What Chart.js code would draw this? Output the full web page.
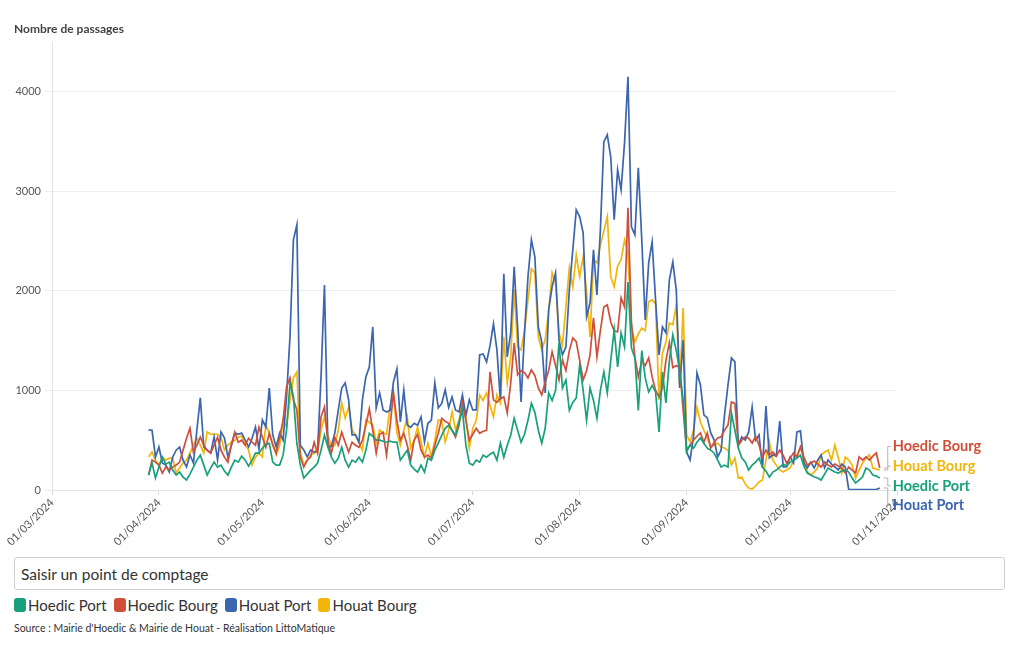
<!DOCTYPE html>
<html lang="fr">
<head>
<meta charset="utf-8">
<title>Nombre de passages</title>
<script src="https://cdn.jsdelivr.net/npm/chart.js@4.4.1/dist/chart.umd.min.js"></script>
<style>
  body { margin: 0; background: #fff; font-family: Lato, "Noto Sans", sans-serif; color: #333; }
  #wrap { position: relative; width: 1020px; height: 650px; }
  #chart { position: absolute; left: 0; top: 0; }
  #title { position: absolute; left: 14px; top: 21px; font-size: 12px; font-weight: bold; color: #444; }
  #search { position: absolute; left: 14px; top: 557px; width: 991px; height: 33px; box-sizing: border-box;
            border: 1px solid #cfcfcf; border-radius: 3px; padding: 0 6px; font: 15.5px Lato, sans-serif; color: #333; }
  #search::placeholder { color: #333; }
  #legend { position: absolute; left: 14px; top: 596px; display: flex; font-size: 15px; color: #333; }
  #legend .item { display: flex; align-items: center; margin-right: 7px; }
  #legend .box { width: 12px; height: 14px; border-radius: 3px; margin-right: 2px; }
  #source { position: absolute; left: 14px; top: 622px; font-size: 10.5px; color: #333; }
</style>
</head>
<body>
<div id="wrap">
  <canvas id="chart" width="1020" height="550"></canvas>
  <div id="title">Nombre de passages</div>
  <input id="search" type="text" placeholder="Saisir un point de comptage">
  <div id="legend"></div>
  <div id="source">Source : Mairie d'Hoedic &amp; Mairie de Houat - Réalisation LittoMatique</div>
</div>
<script>
// First day of the counts, and first day of the x axis
const firstDate = "2024-03-29";
const axisStart = "2024-03-01";

// Tick labels on the x axis (first day of each month)
const monthLabels = ["01/03/2024", "01/04/2024", "01/05/2024", "01/06/2024", "01/07/2024",
    "01/08/2024", "01/09/2024", "01/10/2024", "01/11/2024"];

// Ticks on the y axis
const yTicks = [0, 1000, 2000, 3000, 4000];

// Daily counts, 29/03 to 27/10
const hoedicPort = [150, 270, 120,
    230, 330, 260, 280, 200, 150, 180, 130, 100, 160, 230, 300, 350, 250, 150, 220, 280, 230, 250, 190, 150, 230, 300, 280, 340, 300, 240, 300, 370, 370,
    420, 460, 470, 280, 250, 250, 350, 600, 1075, 935, 470, 250, 120, 160, 200, 230, 270, 400, 550, 430, 330, 270, 320, 430, 300, 230, 300, 280, 330, 280, 400,
    570, 540, 500, 500, 490, 480, 490, 480, 480, 300, 350, 400, 250, 210, 180, 250, 180, 320, 300, 400, 470, 550, 620, 650, 600, 550, 680, 800, 450, 270,
    250, 300, 280, 350, 330, 360, 380, 300, 470, 330, 450, 550, 720, 600, 480, 560, 700, 870, 780, 600, 470, 620, 975, 900, 1000, 1480, 1025, 1105, 800, 880, 925,
    1256, 1000, 700, 1025, 900, 720, 1000, 1186, 975, 1300, 1608, 1236, 1578, 1437, 2090, 1427, 1327, 800, 1400, 1126, 985, 1050, 985, 583, 1186, 874, 1300, 1558, 1400, 1200, 905,
    382, 450, 420, 480, 523, 470, 420, 400, 370, 300, 231, 250, 231, 774, 600, 422, 320, 281, 200, 250, 280, 320, 230, 190, 130, 180, 200, 230, 260, 240,
    280, 300, 320, 350, 240, 170, 150, 130, 120, 100, 160, 220, 200, 180, 170, 190, 200, 180, 120, 70, 100, 130, 220, 200, 150, 140, 120];

const hoedicBourg = [150, 300, 280,
    250, 170, 230, 200, 230, 250, 280, 400, 520, 620, 380, 450, 530, 450, 400, 370, 450, 530, 400, 330, 280, 450, 580, 480, 500, 450, 520, 480, 450, 630,
    530, 430, 570, 450, 370, 530, 700, 1035, 1125, 905, 805, 330, 230, 300, 330, 480, 370, 735, 835, 480, 370, 530, 450, 580, 480, 382, 480, 450, 430, 500, 650,
    815, 600, 370, 560, 580, 350, 630, 975, 700, 500, 570, 450, 300, 500, 560, 400, 330, 350, 320, 450, 570, 720, 690, 670, 600, 530, 650, 870, 700, 500,
    560, 620, 570, 590, 600, 1186, 905, 880, 920, 935, 774, 1075, 1477, 1156, 1200, 1180, 1126, 1206, 1150, 1025, 955, 1085, 1200, 1387, 1250, 1105, 1307, 1200, 1400, 1528, 1490,
    1300, 1105, 1200, 1357, 1729, 1337, 1600, 1839, 1859, 1688, 1600, 1588, 1930, 1839, 2834, 1678, 1337, 1136, 1300, 1250, 1327, 1136, 1000, 935, 1025, 1300, 1477, 1230, 1250, 1230, 800,
    400, 450, 502, 540, 573, 480, 573, 422, 480, 523, 533, 600, 653, 884, 870, 450, 500, 533, 520, 472, 540, 450, 332, 400, 350, 382, 340, 400, 350, 271,
    320, 372, 330, 432, 330, 251, 270, 290, 260, 231, 280, 250, 231, 260, 240, 220, 171, 231, 200, 171, 332, 300, 332, 300, 340, 372, 221];

const houatPort = [603, 600, 332,
    432, 271, 250, 181, 332, 400, 432, 300, 231, 352, 271, 600, 925, 432, 400, 372, 533, 302, 583, 523, 332, 450, 573, 560, 573, 500, 432, 520, 633, 412,
    703, 633, 1025, 553, 432, 573, 500, 935, 1538, 2512, 2663, 450, 402, 332, 402, 380, 400, 1136, 2060, 432, 440, 573, 800, 1025, 1075, 905, 553, 553, 480, 905, 1136,
    1236, 1638, 824, 975, 804, 784, 800, 1085, 1216, 683, 1005, 653, 630, 670, 650, 734, 482, 670, 703, 1075, 824, 870, 1005, 830, 935, 804, 784, 955, 750, 905,
    804, 804, 1357, 1367, 1287, 1450, 1668, 1407, 905, 2171, 1337, 1578, 2241, 1638, 884, 1578, 2141, 2512, 2342, 1638, 1487, 975, 1809, 2040, 2181, 1508, 1357, 1437, 2010, 2412, 2814,
    2744, 2583, 1739, 1879, 2412, 1960, 2613, 3497, 3568, 3347, 2714, 3216, 3015, 3487, 4151, 2643, 2563, 3236, 2513, 1709, 2281, 2492, 1910, 1357, 1638, 1578, 2110, 2291, 2010, 1025, 1507,
    382, 302, 533, 1176, 1055, 754, 724, 573, 502, 332, 400, 754, 1055, 1327, 1287, 450, 533, 502, 583, 834, 502, 553, 221, 844, 322, 352, 340, 693, 231, 231,
    332, 271, 583, 593, 271, 221, 280, 221, 300, 352, 221, 302, 260, 231, 201, 260, 231, 5, 5, 5, 5, 5, 5, 5, 5, 5, 20];

const houatBourg = [332, 382, 300,
    251, 330, 300, 320, 320, 171, 220, 271, 300, 372, 450, 523, 450, 372, 583, 560, 560, 560, 533, 402, 450, 480, 500, 530, 543, 450, 402, 251, 330, 372,
    332, 653, 573, 472, 352, 450, 703, 633, 900, 1126, 1186, 382, 251, 300, 352, 370, 382, 603, 734, 550, 432, 450, 600, 874, 724, 834, 603, 550, 472, 400, 703,
    680, 650, 472, 603, 573, 560, 834, 975, 573, 452, 600, 734, 422, 500, 633, 482, 332, 470, 332, 500, 703, 690, 482, 600, 784, 603, 700, 874, 730, 422,
    623, 700, 955, 900, 975, 850, 734, 955, 874, 1538, 1075, 1337, 2010, 1437, 1407, 1600, 1910, 2221, 2181, 1538, 1407, 1508, 1800, 2181, 2080, 1578, 1457, 1839, 2231, 2040, 2362,
    2141, 2342, 1980, 1538, 2312, 2281, 2462, 2600, 2744, 2141, 2040, 2250, 2312, 2512, 2382, 1638, 1487, 1570, 1628, 1600, 1890, 1910, 1870, 905, 1377, 1487, 1678, 1660, 1859, 1035, 1829,
    553, 482, 600, 834, 683, 600, 523, 432, 450, 472, 432, 422, 400, 251, 322, 120, 130, 60, 20, 10, 40, 80, 100, 302, 482, 302, 250, 201, 180, 200,
    221, 300, 352, 432, 300, 181, 151, 180, 221, 352, 380, 402, 302, 452, 322, 171, 332, 300, 251, 120, 200, 271, 320, 352, 221, 210, 201];

// Series names and colours, in legend order
const seriesNames = ["Hoedic Port", "Hoedic Bourg", "Houat Port", "Houat Bourg"];
const seriesValues = [hoedicPort, hoedicBourg, houatPort, houatBourg];
const seriesColors = ["#17a07b", "#cf4f3b", "#3b65ae", "#f2b50a"];

const DAY = 86400000;
const dayOf = (iso) => Math.round((Date.parse(iso) - Date.parse(axisStart)) / DAY);
const frToIso = (s) => s.split("/").reverse().join("-");
const firstDay = dayOf(firstDate);
const tickDays = monthLabels.map(l => dayOf(frToIso(l)));

const datasets = seriesNames.map((name, k) => ({
    label: name,
    data: seriesValues[k].map((v, i) => ({ x: firstDay + i, y: v })),
    borderColor: seriesColors[k],
    backgroundColor: seriesColors[k],
    borderWidth: 1.7,
    pointRadius: 0,
    tension: 0,
    fill: false,
}));

// Labels at the end of each line, spread so they do not overlap
const endLabels = {
    id: "endLabels",
    afterDatasetsDraw(chart) {
        const ctx = chart.ctx;
        const ends = chart.data.datasets.map((ds, k) => {
            const pts = chart.getDatasetMeta(k).data;
            const p = pts[pts.length - 1];
            return { name: ds.label, color: ds.borderColor, x: p.x, y: p.y };
        }).sort((a, b) => a.y - b.y);
        const gap = 19.7;
        const mid = ends.reduce((s, e) => s + e.y, 0) / ends.length;
        ctx.save();
        ctx.font = "bold 14.5px Lato, sans-serif";
        ctx.textBaseline = "middle";
        ends.forEach((e, k) => {
            const ly = mid + (k - (ends.length - 1) / 2) * gap;
            const lx = e.x + 13;
            ctx.strokeStyle = "#b5b5b5";
            ctx.lineWidth = 1;
            ctx.beginPath();
            ctx.moveTo(e.x + 4, e.y);
            ctx.lineTo(e.x + 8, e.y);
            ctx.lineTo(e.x + 8, ly);
            ctx.lineTo(lx - 2, ly);
            ctx.stroke();
            ctx.fillStyle = e.color;
            ctx.fillText(e.name, lx, ly);
        });
        ctx.restore();
    }
};

const tickFont = { family: "Lato, sans-serif", size: 11 };

let myChart = new Chart(document.getElementById("chart"), {
    type: "line",
    data: { datasets: datasets },
    options: {
        responsive: false,
        animation: false,
        layout: { padding: { top: 42, right: 123, left: 0, bottom: 0 } },
        plugins: {
            legend: { display: false },
            tooltip: { enabled: false },
        },
        scales: {
            x: {
                type: "linear",
                min: tickDays[0],
                max: tickDays[tickDays.length - 1],
                afterBuildTicks: (axis) => { axis.ticks = tickDays.map(v => ({ value: v })); },
                ticks: {
                    autoSkip: false,
                    minRotation: 45,
                    maxRotation: 45,
                    padding: 1,
                    color: "#555",
                    font: tickFont,
                    callback: (v) => monthLabels[tickDays.indexOf(v)],
                },
                grid: { drawOnChartArea: false, tickLength: 5, color: "#d8d8d8" },
                border: { color: "#e3e3e3" },
                afterFit: (axis) => { axis.height = 60; },
            },
            y: {
                type: "linear",
                min: 0,
                max: 4500,
                afterBuildTicks: (axis) => { axis.ticks = yTicks.map(v => ({ value: v })); },
                ticks: { autoSkip: false, padding: 4, color: "#555", font: tickFont, callback: (v) => String(v) },
                grid: { color: "#ececec", tickLength: 7 },
                border: { color: "#e3e3e3" },
                afterFit: (axis) => { axis.width = 52; },
            },
        },
    },
    plugins: [endLabels],
});

// Legend under the search box
const legend = document.getElementById("legend");
seriesNames.forEach((name, k) => {
    legend.innerHTML += `<div class="item"><span class="box" style="background:${seriesColors[k]}"></span>${name}</div>`;
});
</script>
</body>
</html>
